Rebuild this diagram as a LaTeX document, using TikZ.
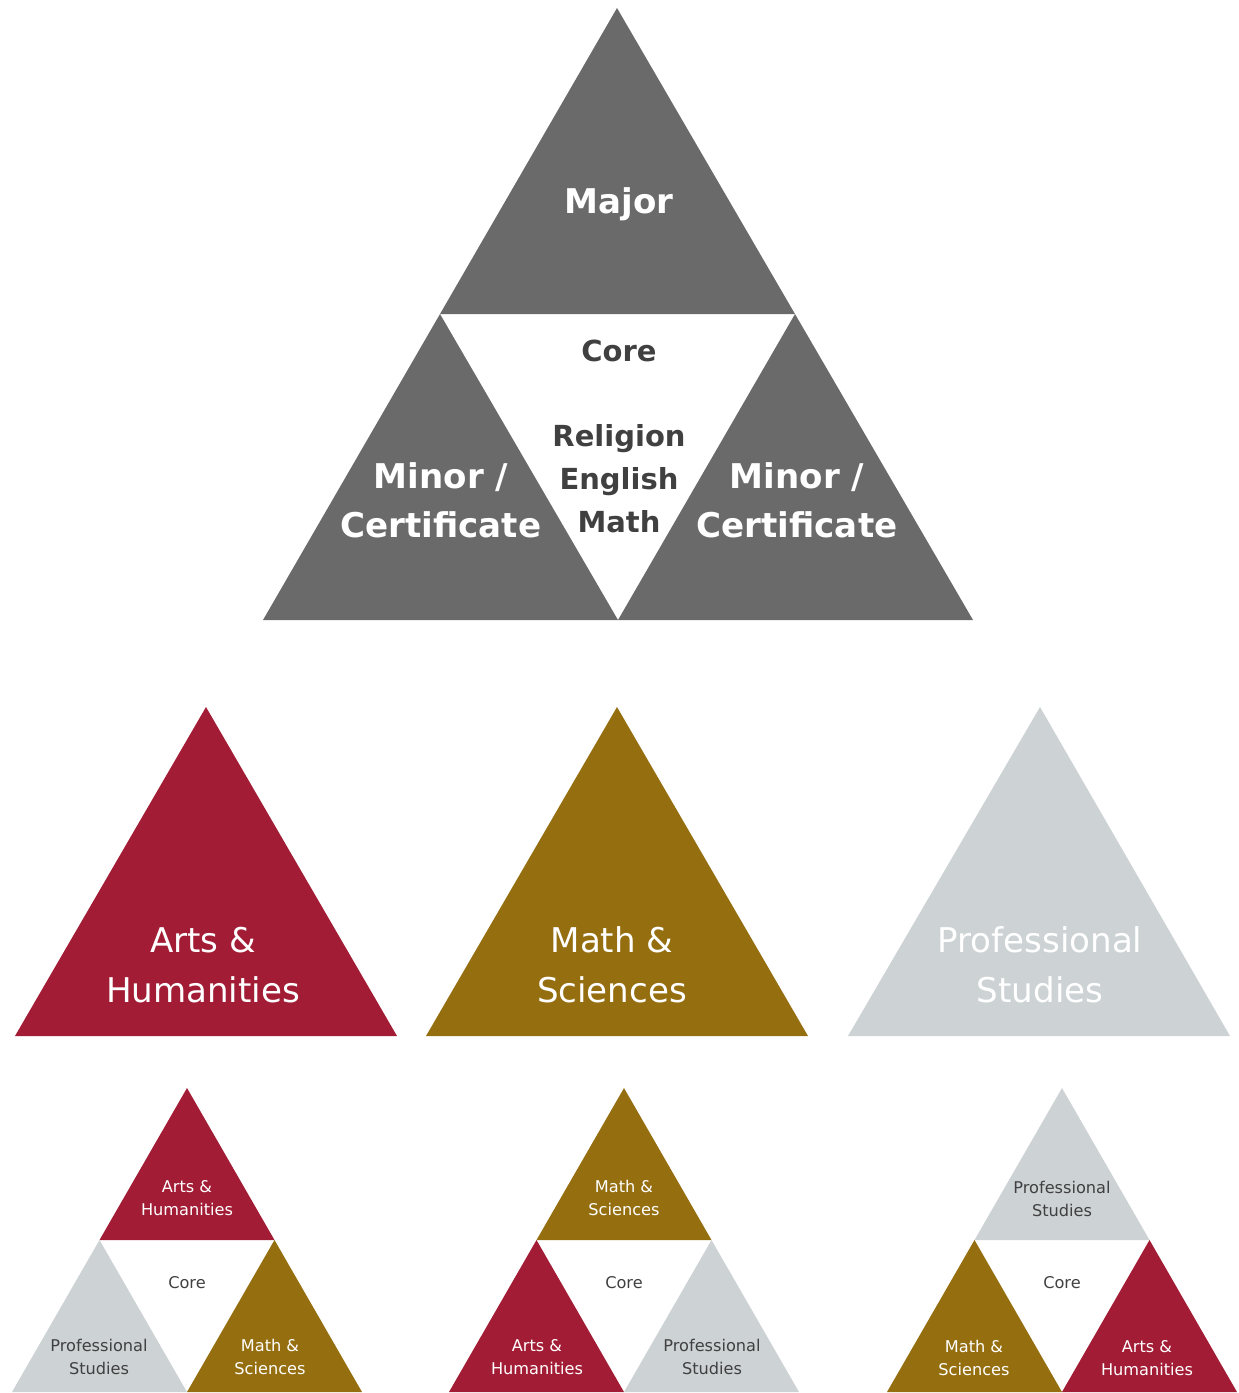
\documentclass[tikz,border=0pt]{standalone}
\usepackage{fontspec}
\setmainfont{DejaVu Sans}

\definecolor{slate}{HTML}{6A6A6A}
\definecolor{crimson}{HTML}{A21C35}
\definecolor{ochre}{HTML}{956E10}
\definecolor{mist}{HTML}{CDD2D5}
\definecolor{ink}{HTML}{404040}

\tikzset{
  bigbold/.style={font=\bfseries\fontsize{19.4}{27.9}\selectfont, align=center},
  corebold/.style={font=\bfseries\fontsize{16.5}{24.5}\selectfont, align=center, text=ink},
  midlabel/.style={font=\fontsize{19.4}{28.4}\selectfont, align=center},
  smalllabel/.style={font=\fontsize{9.2}{13.1}\selectfont, align=center}
}

\begin{document}
\begin{tikzpicture}[x=0.02cm, y=-0.02cm]
  \useasboundingbox (0,0) rectangle (1238,1393);

  % Top
  \fill[slate] (617,8) -- (440,314) -- (795,314) -- cycle;
  \fill[slate] (440,314) -- (263,620) -- (618,620) -- cycle;
  \fill[slate] (795,314) -- (618,620) -- (973,620) -- cycle;

  \begin{scope}[every node/.style={inner sep=0pt}]
    \node[bigbold, text=white] (major) at (619,204) {Major};
    \node[corebold] (core) at (619,351) {Core};
    \node[corebold] (subjects) at (619,479) {Religion\\English\\Math};
    \node[bigbold, text=white] (minorL) at (441,500) {Minor /\\Certificate};
    \node[bigbold, text=white] (minorR) at (797,500) {Minor /\\Certificate};
  \end{scope}

  % Schools
  \fill[crimson] (206,707) -- (15,1036) -- (397,1036) -- cycle;
  \fill[ochre] (617,707) -- (426,1036) -- (808,1036) -- cycle;
  \fill[mist] (1040,707) -- (848,1036) -- (1230,1036) -- cycle;

  \begin{scope}[every node/.style={midlabel, inner sep=0pt, text=white}]
    \node (arts) at (203,965) {Arts \&\\Humanities};
    \node (math) at (612,965) {Math \&\\Sciences};
    \node (prof) at (1040,965) {Professional\\Studies};
  \end{scope}

  % Arts core
  \fill[crimson] (187,1088) -- (99.5,1240) -- (274.5,1240) -- cycle;
  \fill[mist] (99.5,1240) -- (12,1392) -- (187,1392) -- cycle;
  \fill[ochre] (274.5,1240) -- (187,1392) -- (362,1392) -- cycle;

  % Math core
  \fill[ochre] (624,1088) -- (536.5,1240) -- (711.5,1240) -- cycle;
  \fill[crimson] (536.5,1240) -- (449,1392) -- (624,1392) -- cycle;
  \fill[mist] (711.5,1240) -- (624,1392) -- (799,1392) -- cycle;

  % Professional core
  \fill[mist] (1062,1088) -- (974.5,1240) -- (1149.5,1240) -- cycle;
  \fill[ochre] (974.5,1240) -- (887,1392) -- (1062,1392) -- cycle;
  \fill[crimson] (1149.5,1240) -- (1062,1392) -- (1237,1392) -- cycle;

  \begin{scope}[every node/.style={smalllabel, inner sep=0pt}]
    \node[text=white] (artsA) at (187,1198) {Arts \&\\Humanities};
    \node[text=ink] (coreA) at (187,1283) {Core};
    \node[text=ink] (profA) at (99,1357) {Professional\\Studies};
    \node[text=white] (mathA) at (270,1357) {Math \&\\Sciences};

    \node[text=white] (mathM) at (624,1198) {Math \&\\Sciences};
    \node[text=ink] (coreM) at (624,1283) {Core};
    \node[text=white] (artsM) at (537,1357) {Arts \&\\Humanities};
    \node[text=ink] (profM) at (712,1357) {Professional\\Studies};

    \node[text=ink] (profP) at (1062,1199) {Professional\\Studies};
    \node[text=ink] (coreP) at (1062,1283) {Core};
    \node[text=white] (mathP) at (974,1358) {Math \&\\Sciences};
    \node[text=white] (artsP) at (1147,1358) {Arts \&\\Humanities};
  \end{scope}
\end{tikzpicture}
\end{document}
